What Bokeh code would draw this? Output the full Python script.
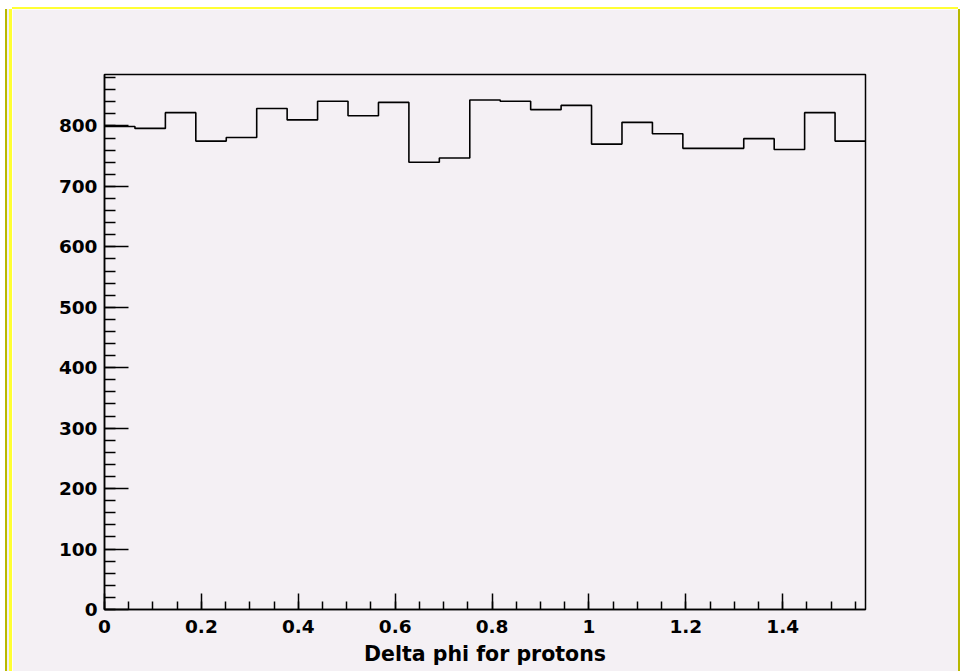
import numpy as np
from bokeh.plotting import figure
from bokeh.models import Range1d, SingleIntervalTicker, CustomJSTickFormatter
from bokeh.embed import file_html
from bokeh.resources import INLINE

# Histogram of delta phi for protons: 25 equal bins on [0, pi/2]
x_lo = 0.0
x_hi = np.pi / 2
n_bins = 25
counts = [799, 796, 822, 775, 781, 829, 810, 841, 817, 839, 740, 747, 843,
          841, 827, 834, 770, 806, 787, 763, 763, 779, 761, 822, 775]
x_title = "Delta phi for protons"

edges = np.linspace(x_lo, x_hi, n_bins + 1)
step_y = list(counts) + [counts[-1]]
y_top = 1.05 * max(counts)

bg = "#f4f0f4"
font = "DejaVu Sans"

p = figure(width=946, height=662, output_backend="svg", toolbar_location=None,
           x_range=Range1d(x_lo, x_hi), y_range=Range1d(0, y_top),
           min_border_left=92, min_border_right=93,
           min_border_top=65, min_border_bottom=62,
           background_fill_color=bg, border_fill_color=bg)
p.margin = (9, 0, 0, 12)
# canvas frame lines drawn as shadows so they do not change the layout size
p.styles = {
    "box-shadow": ("-3px 0 0 0 #ffff33, -5px 0 0 0 #f4f0f4, -7px 0 0 0 #b8b800, "
                   "0 -2px 0 0 #ffff33, 2px 0 0 0 #b8b800"),
}

p.grid.visible = False
p.outline_line_color = "black"
p.outline_line_width = 1.5

p.step(x=edges, y=step_y, mode="after", line_color="black", line_width=1.6)

xa = p.xaxis[0]
xa.ticker = SingleIntervalTicker(interval=0.2, num_minor_ticks=4)
xa.formatter = CustomJSTickFormatter(code="return String(Number(tick.toFixed(3)));")
xa.major_tick_in = 16
xa.major_tick_out = 0
xa.minor_tick_in = 8
xa.minor_tick_out = 0
xa.major_label_standoff = 10
xa.axis_label = x_title
xa.axis_label_standoff = 6
xa.axis_label_text_font = font
xa.axis_label_text_font_style = "bold"
xa.axis_label_text_font_size = "20.5px"
xa.axis_label_text_color = "black"

ya = p.yaxis[0]
ya.ticker = SingleIntervalTicker(interval=100, num_minor_ticks=5)
ya.major_tick_in = 24
ya.major_tick_out = 0
ya.minor_tick_in = 11
ya.minor_tick_out = 0
ya.major_label_standoff = 7

for ax in (xa, ya):
    ax.axis_line_color = "black"
    ax.axis_line_width = 1.5
    ax.major_tick_line_color = "black"
    ax.minor_tick_line_color = "black"
    ax.major_tick_line_width = 1.5
    ax.minor_tick_line_width = 1.5
    ax.major_label_text_font = font
    ax.major_label_text_font_style = "bold"
    ax.major_label_text_font_size = "18.5px"
    ax.major_label_text_color = "black"

open("out.html", "w").write(file_html(p, INLINE))
